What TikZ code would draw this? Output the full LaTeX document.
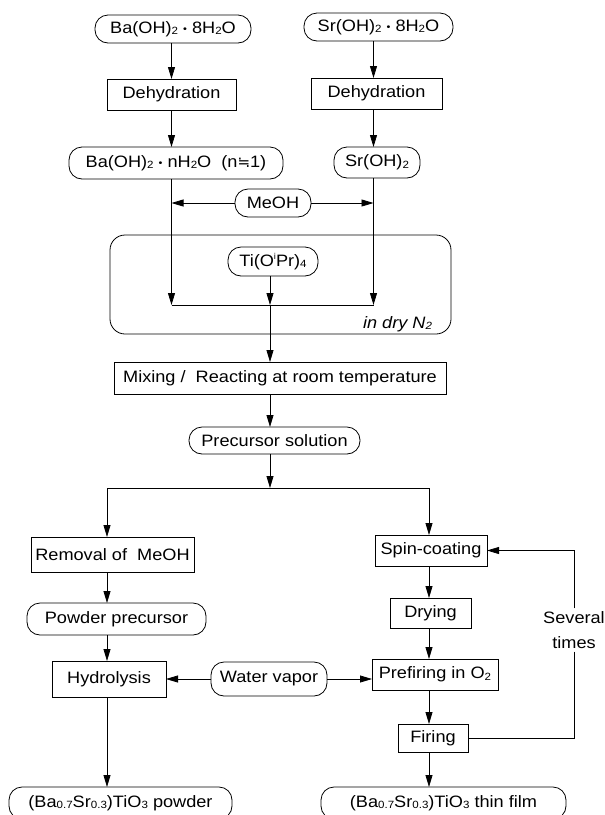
\documentclass[tikz,border=0pt]{standalone}
\usepackage{fontspec}
\setmainfont{Liberation Sans}[FakeStretch=1.1]
\newfontfamily\symf{DejaVu Sans}
\usetikzlibrary{arrows.meta}
\newcommand{\chs}[1]{\raisebox{-0.15ex}{\fontsize{10.5}{10.5}\selectfont #1}}
\newcommand{\chsup}[1]{\raisebox{0.85ex}{\fontsize{8.5}{8.5}\selectfont #1}}
\newcommand{\chdot}{\raisebox{0.1ex}{\fontsize{10}{10}\selectfont •}}
\begin{document}
\begin{tikzpicture}[x=1pt,y=-1pt,
  font=\fontsize{16.5}{18}\selectfont,
  line width=0.8pt,
  every node/.style={inner sep=0pt, outer sep=0pt},
  oval/.style={draw, rounded corners=13pt},
  pbox/.style={draw},
  arr/.style={-{Triangle[length=12pt,width=7pt]}}]
\useasboundingbox (0,0) rectangle (605,815);

% top
\node[oval, minimum width=156pt, minimum height=28pt] (ba) at (173,29) {Ba(OH)\chs{2} \chdot{} 8H\chs{2}O};
\node[oval, minimum width=149pt, minimum height=28pt] (sr) at (378.5,27) {Sr(OH)\chs{2} \chdot{} 8H\chs{2}O};
\node[pbox, minimum width=129pt, minimum height=31pt] (dehL) at (171.5,94.5) {Dehydration};
\node[pbox, minimum width=131pt, minimum height=31pt] (dehR) at (376.5,93.5) {Dehydration};
\node[oval, minimum width=214pt, minimum height=32pt] (baN) at (176,163) {Ba(OH)\chs{2} \chdot{} nH\chs{2}O\ \ (n{\symf\fontsize{15}{18}\selectfont ≒}1)};
\node[oval, minimum width=86pt, minimum height=31pt] (srOH) at (377,162.5) {Sr(OH)\chs{2}};
\node[oval, minimum width=76pt, minimum height=28pt] (meoh) at (273,203) {MeOH};

% dry N2 enclosure
\draw[rounded corners=15pt] (110,235) rectangle (451,334);
\node[oval, minimum width=90pt, minimum height=29pt] (ti) at (273,261.5) {Ti(O\chsup{i}Pr)\chs{4}};
\node[anchor=base east, font=\fontsize{16.5}{18}\selectfont\itshape] (indry) at (432,328) {in dry N\chs{2}};

\node[pbox, minimum width=332pt, minimum height=32pt] (mix) at (280,378) {Mixing /\ \ Reacting at room temperature};
\node[oval, minimum width=171pt, minimum height=27pt] (prec) at (274.5,440.5) {Precursor solution};

% left branch
\node[pbox, minimum width=163pt, minimum height=35pt] (rem) at (112.5,554.5) {Removal of\ \ MeOH};
\node[oval, minimum width=179pt, minimum height=32pt] (powp) at (116.5,619) {Powder precursor};
\node[pbox, minimum width=114pt, minimum height=36pt] (hyd) at (109,679) {Hydrolysis};
\node[oval, minimum width=223pt, minimum height=32pt] (powf) at (120.5,803) {(Ba\chs{0.7}Sr\chs{0.3})TiO\chs{3} powder};

% middle
\node[oval, minimum width=116pt, minimum height=34pt] (wv) at (269,679) {Water vapor};

% right branch
\node[pbox, minimum width=112pt, minimum height=31pt] (spin) at (431,550.5) {Spin-coating};
\node[pbox, minimum width=81pt, minimum height=30pt] (dry) at (430.5,613) {Drying};
\node[pbox, minimum width=126pt, minimum height=31pt] (pref) at (435,674.5) {Prefiring in O\chs{2}};
\node[pbox, minimum width=70pt, minimum height=28pt] (fire) at (433,738) {Firing};
\node[oval, minimum width=245pt, minimum height=32pt] (film) at (443.5,803) {(Ba\chs{0.7}Sr\chs{0.3})TiO\chs{3} thin film};
\node[align=center, inner sep=3pt, font=\fontsize{16.5}{25}\selectfont] (sev) at (574,630) {Several\\times};

% junction coordinates
\coordinate (cl) at (171.5,305);
\coordinate (cr) at (373.5,305);
\coordinate (cm) at (270,305);
\coordinate (sp) at (270,488);
\coordinate (sl) at (107,488);
\coordinate (sg) at (429,488);

% top connectors
\draw[arr] (cl |- ba.south) -- (cl |- dehL.north);
\draw[arr] (cl |- dehL.south) -- (cl |- baN.north);
\draw[arr] (cr |- sr.south) -- (cr |- dehR.north);
\draw[arr] (cr |- dehR.south) -- (cr |- srOH.north);
\draw[arr] (meoh.west) -- (meoh.west -| cl);
\draw[arr] (meoh.east) -- (meoh.east -| cr);
\draw[arr] (cl |- baN.south) -- (cl);
\draw[arr] (cr |- srOH.south) -- (cr);
\draw[arr] (cm |- ti.south) -- (cm);
\draw (cl) -- (cr);
\draw[arr] (cm) -- (cm |- mix.north);
\draw[arr] (cm |- mix.south) -- (cm |- prec.north);
\draw[arr] (cm |- prec.south) -- (sp);
\draw (sl) -- (sg);

% left column
\draw[arr] (sl) -- (sl |- rem.north);
\draw[arr] (sl |- rem.south) -- (sl |- powp.north);
\draw[arr] (sl |- powp.south) -- (sl |- hyd.north);
\draw[arr] (sl |- hyd.south) -- (sl |- powf.north);

% right column
\draw[arr] (sg) -- (sg |- spin.north);
\draw[arr] (sg |- spin.south) -- (sg |- dry.north);
\draw[arr] (sg |- dry.south) -- (sg |- pref.north);
\draw[arr] (sg |- pref.south) -- (sg |- fire.north);
\draw[arr] (sg |- fire.south) -- (sg |- film.north);

% water vapor
\draw[arr] (wv.west) -- (wv.west -| hyd.east);
\draw[arr] (wv.east) -- (wv.east -| pref.west);

% feedback loop
\draw[arr] (sev.north) |- (spin.east);
\draw (sev.south) |- (fire.east);
\end{tikzpicture}
\end{document}
